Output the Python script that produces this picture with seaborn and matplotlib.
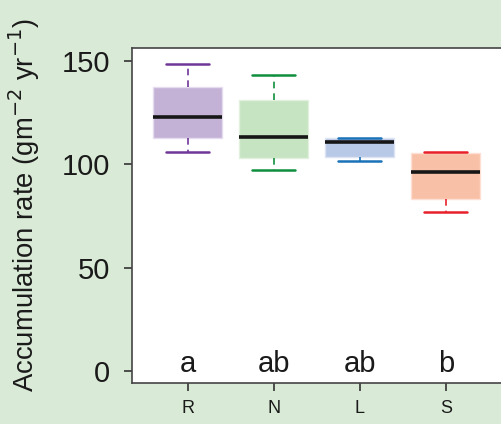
#!/usr/bin/env python3
"""Accumulation rate boxplot by site (R, N, L, S)."""
import numpy as np
import pandas as pd
import matplotlib
matplotlib.use("Agg")
import matplotlib.pyplot as plt
import seaborn as sns

# five-number summaries: min, Q1, median, Q3, max
sites = ["R", "N", "L", "S"]
rate_R = [106.0, 112.6, 122.7, 137.6, 148.6]
rate_N = [97.2, 103.0, 113.4, 130.9, 143.4]
rate_L = [101.5, 103.5, 111.0, 112.6, 112.6]
rate_S = [76.8, 83.3, 96.4, 105.3, 105.8]
letters = ["a", "ab", "ab", "b"]

fills = ["#c3b1d6", "#c6e4c1", "#b8c8e7", "#f9c0a8"]
lines = ["#6f3699", "#0f8f3d", "#1b72b8", "#e8202a"]
edges = ["#e6dcef", "#e2f1de", "#dce4f3", "#fde0d3"]
bg = "#d9ebd6"

df = pd.DataFrame({
    "site": np.repeat(sites, 5),
    "rate": rate_R + rate_N + rate_L + rate_S,
})

sns.set_theme(style="white")
plt.rcParams["font.family"] = ["Liberation Sans", "DejaVu Sans"]

fig = plt.figure(figsize=(5.02, 4.24), dpi=100, facecolor=bg)
ax = fig.add_axes([132 / 502, 1 - 383 / 424, 374 / 502, 335 / 424])

for site, fc, lc, ec in zip(sites, fills, lines, edges):
    sub = df[df["site"] == site]
    sns.boxplot(data=sub, x="site", y="rate", order=sites, ax=ax,
                color=fc, saturation=1, width=0.8, whis=3,
                boxprops=dict(facecolor=fc, edgecolor=ec, linewidth=1),
                medianprops=dict(color="#161616", linewidth=2.6),
                whiskerprops=dict(color=lc, linewidth=1.2, linestyle=(0, (4, 3))),
                capprops=dict(color=lc, linewidth=1.8),
                capwidths=0.5, showfliers=False)

for i, lab in enumerate(letters):
    ax.text(i, -0.5, lab, ha="center", va="baseline", fontsize=21, color="#1a1a1a")

ax.set_xlim(-0.65, 3.7)
ax.set_ylim(-5.8, 156.3)
ax.set_yticks([0, 50, 100, 150])
ax.set_xlabel("")
ax.set_ylabel("Accumulation rate (gm$^{-2}$ yr$^{-1}$)", fontsize=19.8, color="#1a1a1a")
ax.yaxis.set_label_coords(-0.24, 0.53)

ax.tick_params(axis="y", which="both", left=True, direction="out", length=6,
               width=1.2, pad=10, labelsize=21, colors="#333333", labelcolor="#1a1a1a")
ax.tick_params(axis="x", which="both", bottom=True, direction="out", length=6,
               width=1.2, pad=6, labelsize=13, colors="#333333", labelcolor="#1a1a1a")
for s in ax.spines.values():
    s.set_color("#444444")
    s.set_linewidth(1.2)
ax.set_facecolor("white")

fig.savefig("out.png", dpi=100, facecolor=bg)
